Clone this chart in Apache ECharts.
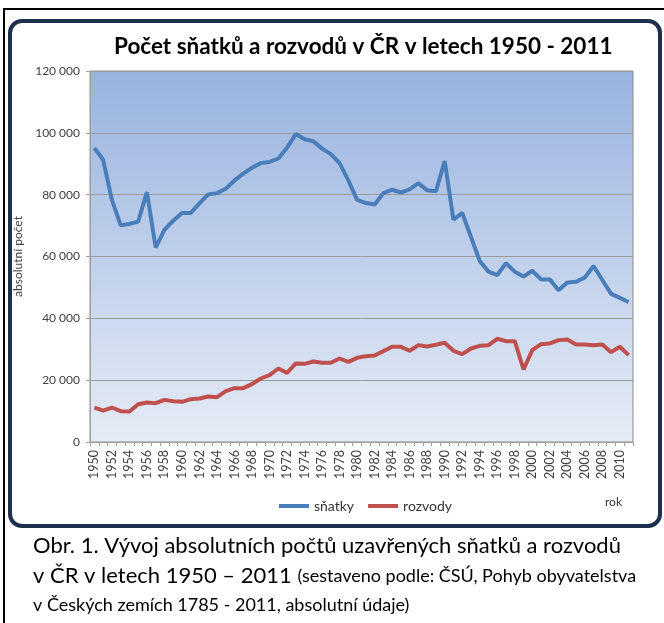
<!DOCTYPE html>
<html lang="cs">
	<head>
		<meta charset="UTF-8">
		<title>Počet sňatků a rozvodů v ČR</title>
		<style>
			html, body {
				margin: 0;
				padding: 0;
				background: #fff;
			}

			#myEcharts {
				width: 664px;
				height: 623px;
			}
		</style>
		<script src="https://cdn.jsdelivr.net/npm/echarts@6/dist/echarts.min.js"></script>
	</head>

	<body>
		<div id="myEcharts"></div>

		<script>
			// roky 1950 - 2011
			var years = ['1950', '1951', '1952', '1953', '1954', '1955', '1956', '1957', '1958', '1959',
				'1960', '1961', '1962', '1963', '1964', '1965', '1966', '1967', '1968', '1969',
				'1970', '1971', '1972', '1973', '1974', '1975', '1976', '1977', '1978', '1979',
				'1980', '1981', '1982', '1983', '1984', '1985', '1986', '1987', '1988', '1989',
				'1990', '1991', '1992', '1993', '1994', '1995', '1996', '1997', '1998', '1999',
				'2000', '2001', '2002', '2003', '2004', '2005', '2006', '2007', '2008', '2009',
				'2010', '2011'
			];

			// sňatky
			var snatky = [95100, 91300, 78300, 70100, 70500, 71300, 80800, 62900, 68600, 71600,
				74100, 74100, 77200, 80100, 80500, 81900, 84600, 86800, 88700, 90200,
				90600, 91700, 95200, 99600, 97900, 97300, 94900, 93100, 90200, 84600,
				78300, 77300, 76800, 80500, 81600, 80700, 81700, 83700, 81400, 81100,
				90900, 71900, 74100, 66300, 58500, 55100, 54000, 57800, 55100, 53500,
				55400, 52600, 52600, 49100, 51600, 51800, 53200, 56900, 52400, 47900,
				46600, 45300
			];

			// rozvody
			var rozvody = [11150, 10180, 11150, 9970, 9860, 12230, 12770, 12560, 13630, 13200,
				12990, 13850, 14070, 14710, 14500, 16440, 17410, 17410, 18700, 20540,
				21620, 23780, 22370, 25400, 25290, 26040, 25610, 25610, 27010, 25930,
				27230, 27770, 27980, 29390, 30790, 30790, 29500, 31330, 30900, 31440,
				32080, 29500, 28420, 30250, 31110, 31330, 33380, 32620, 32620, 23450,
				29710, 31650, 31870, 32950, 33160, 31550, 31550, 31330, 31550, 29060,
				30790, 28090
			];

			var yTicks = [0, 20000, 40000, 60000, 80000, 100000, 120000];

			var font = 'Lato, "Open Sans", sans-serif';

			function fmt(v) {
				return String(v).replace(/\B(?=(\d{3})+(?!\d))/g, ' ');
			}

			var myChart = echarts.init(document.getElementById('myEcharts'));

			var option = {
				backgroundColor: '#fff',
				animation: false,
				textStyle: {
					fontFamily: font
				},
				title: {
					text: 'Počet sňatků a rozvodů v ČR v letech 1950 - 2011',
					left: 109,
					top: 30,
					textStyle: {
						fontFamily: font,
						fontSize: 22.5,
						fontWeight: 'bold',
						color: '#000'
					}
				},
				graphic: [{
						// vnější rámeček
						type: 'rect',
						z: -20,
						shape: { x: 4, y: 9, width: 680, height: 640 },
						style: { fill: '#fff', stroke: '#000', lineWidth: 2 }
					},
					{
						// panel grafu
						type: 'rect',
						z: -19,
						shape: { x: 10, y: 21, width: 650, height: 505, r: 12 },
						style: { fill: '#fff', stroke: '#1d2f4d', lineWidth: 4 }
					},
					{
						type: 'text',
						left: 605,
						top: 496,
						style: { text: 'rok', fontFamily: font, fontSize: 12, fill: '#333' }
					},
					{
						type: 'text',
						left: 33,
						top: 535,
						style: {
							text: 'Obr. 1. Vývoj absolutních počtů uzavřených sňatků a rozvodů',
							fontFamily: font, fontSize: 22, fill: '#000'
						}
					},
					{
						type: 'text',
						left: 33,
						top: 565,
						style: {
							text: '{a|v ČR v letech 1950 – 2011 }{b|(sestaveno podle: ČSÚ, Pohyb obyvatelstva}',
							fontFamily: font,
							fill: '#000',
							rich: {
								a: { fontFamily: font, fontSize: 22, fill: '#000' },
								b: { fontFamily: font, fontSize: 18, fill: '#000' }
							}
						}
					},
					{
						type: 'text',
						left: 33,
						top: 596,
						style: {
							text: 'v Českých zemích 1785 - 2011, absolutní údaje)',
							fontFamily: font, fontSize: 18, fill: '#000'
						}
					}
				],
				legend: {
					left: 274,
					top: 494,
					itemWidth: 30,
					itemHeight: 4,
					itemGap: 14,
					icon: 'rect',
					textStyle: { fontFamily: font, fontSize: 14, color: '#333' },
					data: ['sňatky', 'rozvody']
				},
				grid: {
					left: 90,
					top: 71,
					right: 31,
					bottom: 181,
					show: true,
					borderColor: '#8a8a8a',
					borderWidth: 1,
					backgroundColor: new echarts.graphic.LinearGradient(0, 0, 0, 1, [
						{ offset: 0, color: '#98b3df' },
						{ offset: 1, color: '#e6ecf6' }
					])
				},
				xAxis: {
					type: 'category',
					data: years,
					boundaryGap: true,
					axisLine: { lineStyle: { color: '#a0a0a0' } },
					axisTick: { show: true, interval: 0, length: 4, lineStyle: { color: '#a0a0a0' } },
					axisLabel: {
						interval: 1,
						rotate: 90,
						margin: 8,
						fontFamily: font,
						fontSize: 12.5,
						color: '#404040'
					}
				},
				yAxis: {
					type: 'value',
					min: yTicks[0],
					max: yTicks[yTicks.length - 1],
					interval: 20000,
					name: 'absolutní počet',
					nameLocation: 'middle',
					nameGap: 63,
					nameTextStyle: { fontFamily: font, fontSize: 12, color: '#404040' },
					axisLine: { show: true, lineStyle: { color: '#a0a0a0' } },
					axisTick: { show: true, length: 4, lineStyle: { color: '#a0a0a0' } },
					axisLabel: {
						margin: 10,
						fontFamily: font,
						fontSize: 12,
						color: '#404040',
						formatter: fmt
					},
					splitLine: { lineStyle: { color: '#9c9c9c', width: 1 } }
				},
				series: [{
						name: 'sňatky',
						type: 'line',
						data: snatky,
						showSymbol: false,
						symbol: 'none',
						itemStyle: { color: '#4a7ebb' },
						lineStyle: { color: '#4a7ebb', width: 4 },
						z: 3
					},
					{
						name: 'rozvody',
						type: 'line',
						data: rozvody,
						showSymbol: false,
						symbol: 'none',
						itemStyle: { color: '#c0504d' },
						lineStyle: { color: '#c0504d', width: 4 },
						z: 3
					}
				]
			};

			myChart.setOption(option);
		</script>
	</body>
</html>
